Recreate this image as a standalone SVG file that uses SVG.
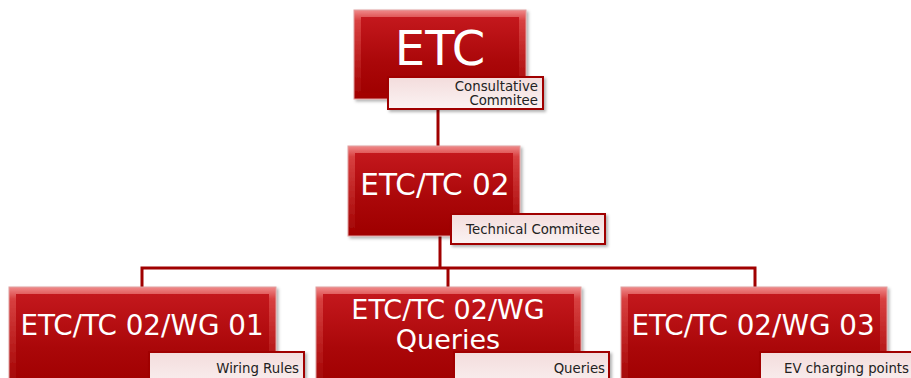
<svg xmlns="http://www.w3.org/2000/svg" width="911" height="378" viewBox="0 0 911 378">
<defs>
<linearGradient id="bevel" x1="0" y1="0" x2="0" y2="1">
<stop offset="0" stop-color="#f08a8a"/>
<stop offset="0.12" stop-color="#d84040"/>
<stop offset="1" stop-color="#a00000"/>
</linearGradient>
<linearGradient id="face" x1="0" y1="0" x2="0" y2="1">
<stop offset="0" stop-color="#c4181d"/>
<stop offset="0.6" stop-color="#aa0709"/>
<stop offset="1" stop-color="#a00000"/>
</linearGradient>
<linearGradient id="lab" x1="0" y1="0" x2="0" y2="1">
<stop offset="0" stop-color="#f3dcdc"/>
<stop offset="1" stop-color="#fbf3f3"/>
</linearGradient>
<filter id="sh" x="-10%" y="-10%" width="125%" height="130%">
<feDropShadow dx="2" dy="2" stdDeviation="1.5" flood-color="#000" flood-opacity="0.3"/>
</filter>
</defs>
<style>
.outer{fill:url(#bevel);stroke:#e0a0a0;stroke-width:1;filter:url(#sh)}
.inner{fill:url(#face)}
.lab{fill:url(#lab);stroke:#a00000;stroke-width:2;filter:url(#sh)}
.big{font-family:"DejaVu Sans",Verdana,sans-serif;fill:#fff;text-anchor:middle}
.small{font-family:"DejaVu Sans",Verdana,sans-serif;fill:#222;font-size:13.3px;text-anchor:end}
.con{fill:none;stroke:#a00000;stroke-width:3}
</style>
<g id="connectors">
<path class="con" d="M438 100 V148"/>
<path class="con" d="M440 236 V268"/>
<path class="con" d="M142 288 V268 H755 V288"/>
<path class="con" d="M448 268 V288"/>
</g>
<g id="etc">
<rect class="outer" x="354" y="10" width="172" height="89"/>
<rect class="inner" x="361" y="17" width="158" height="76"/>
<text class="big" x="440" y="65" font-size="48">ETC</text>
<rect class="lab" x="388" y="77" width="155" height="32"/>
<text class="small" x="538" y="91" font-size="12.5">Consultative</text>
<text class="small" x="538" y="105" font-size="12.5">Commitee</text>
</g>
<g id="tc02">
<rect class="outer" x="348" y="146" width="172" height="90"/>
<rect class="inner" x="355" y="153" width="158" height="77"/>
<text class="big" x="435" y="195" font-size="29.5">ETC/TC 02</text>
<rect class="lab" x="451" y="214" width="154" height="30"/>
<text class="small" x="600" y="234">Technical Commitee</text>
</g>
<g id="wg01">
<rect class="outer" x="9" y="287" width="267" height="100"/>
<rect class="inner" x="16" y="294" width="253" height="90"/>
<text class="big" x="142" y="335" font-size="27.8">ETC/TC 02/WG 01</text>
<rect class="lab" x="149" y="352" width="155" height="40"/>
<text class="small" x="299" y="373">Wiring Rules</text>
</g>
<g id="wgq">
<rect class="outer" x="316" y="287" width="265" height="100"/>
<rect class="inner" x="323" y="294" width="251" height="90"/>
<text class="big" x="448" y="319" font-size="27">ETC/TC 02/WG</text>
<text class="big" x="448" y="349" font-size="27">Queries</text>
<rect class="lab" x="454" y="352" width="155" height="40"/>
<text class="small" x="605" y="373">Queries</text>
</g>
<g id="wg03">
<rect class="outer" x="621" y="287" width="266" height="100"/>
<rect class="inner" x="628" y="294" width="252" height="90"/>
<text class="big" x="753" y="335" font-size="27.8">ETC/TC 02/WG 03</text>
<rect class="lab" x="760" y="352" width="155" height="40"/>
<text class="small" x="909" y="373">EV charging points</text>
</g>
</svg>
